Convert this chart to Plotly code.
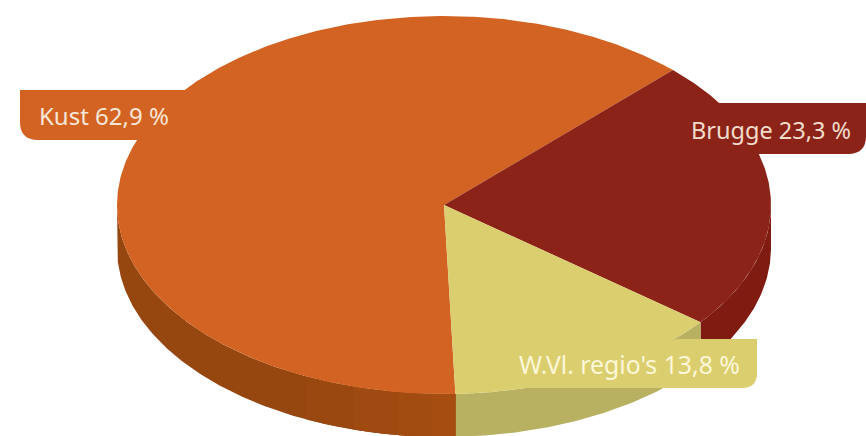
import numpy as np
import plotly.graph_objects as go

categories = ["Kust", "Brugge", "W.Vl. regio's"]
values = [62.9, 23.3, 13.8]
label_texts = ["Kust 62,9 %", "Brugge 23,3 %", "W.Vl. regio's 13,8 %"]

top_colors = {"Kust": "#d36322", "Brugge": "#8b2318", "W.Vl. regio's": "#dbce6e"}
side_colors = {"Kust": "#96460f", "Brugge": "#7f1b11", "W.Vl. regio's": "#b9b162"}
box_text_colors = {"Kust": "#f7e6d8", "Brugge": "#f2dccb", "W.Vl. regio's": "#fbf7d8"}
label_sizes = {"Kust": 24, "Brugge": 23.5, "W.Vl. regio's": 24.8}

# subtle lightening of the Kust wall towards its front end: (end angle, colour)
kust_wall_shades = [(205, "#9a480f"), (196, "#9e4a10"), (188, "#a24c11"), (182, "#a64e12")]

W, H = 866, 436
CX, CY, RX, RY = 444, 205, 327, 189
DEPTH = 43 / RY
ROTATION = 178.0  # clockwise from top: where the Kust slice starts

# slice angles follow the values (clockwise from 12 o'clock), starting at Kust
angles = {}
a = ROTATION
for name, v in zip(categories, values):
    angles[name] = (a, a + v * 3.6)
    a += v * 3.6


def arc(a0, a1):
    t = np.radians(np.linspace(a0, a1, max(int(abs(a1 - a0) * 2), 2)))
    return np.sin(t), np.cos(t)


def add_wall(fig, lo, hi, color):
    x, y = arc(lo, hi)
    fig.add_trace(go.Scatter(
        x=np.r_[x, x[::-1], x[0]], y=np.r_[y, y[::-1] - DEPTH, y[0]],
        fill="toself", fillcolor=color, mode="lines", line_width=0,
        hoverinfo="skip", showlegend=False))


fig = go.Figure()

# side walls (only the front half of the disc shows a wall)
for name in categories:
    a0, a1 = angles[name]
    for shift in (0, -360):
        lo, hi = max(a0 + shift, 90), min(a1 + shift, 270)
        if hi > lo:
            add_wall(fig, lo, hi, side_colors[name])
for end, color in kust_wall_shades:
    add_wall(fig, angles["Kust"][0], end, color)

# top faces
for name in categories:
    a0, a1 = angles[name]
    x, y = arc(a0, a1)
    fig.add_trace(go.Scatter(
        x=np.r_[0, x, 0], y=np.r_[0, y, 0],
        fill="toself", fillcolor=top_colors[name], mode="lines", line_width=0,
        hoverinfo="skip", name=name, showlegend=False))


def px(x):
    return x / W


def py(y):
    return 1 - y / H


def P(x, y):
    return f"{px(x):.5f} {py(y):.5f}"


def left_box(x0, x1, y0, y1, r):
    return (f"M {P(x0, y0)} L {P(x1, y0)} L {P(x1, y1)} L {P(x0 + r, y1)} "
            f"Q {P(x0, y1)} {P(x0, y1 - r)} Z")


def right_box(x0, x1, y0, y1, r, x0b=None):
    x0b = x0 if x0b is None else x0b
    return (f"M {P(x0, y0)} L {P(x1, y0)} L {P(x1, y1 - r)} "
            f"Q {P(x1, y1)} {P(x1 - r, y1)} L {P(x0b, y1)} Z")


shapes = [
    dict(type="path", xref="paper", yref="paper", layer="above", line_width=0,
         fillcolor=top_colors["Kust"], path=left_box(20, 200, 90, 140, 18)),
    dict(type="path", xref="paper", yref="paper", layer="above", line_width=0,
         fillcolor=top_colors["Brugge"], path=right_box(700, 866, 103, 154, 18)),
    dict(type="path", xref="paper", yref="paper", layer="above", line_width=0,
         fillcolor=top_colors["W.Vl. regio's"], path=right_box(677, 757, 339, 388, 15, 517)),
]

positions = {"Kust": (37, 115), "Brugge": (689, 130), "W.Vl. regio's": (517, 364)}
annotations = [
    dict(xref="paper", yref="paper", x=px(positions[n][0]), y=py(positions[n][1]),
         xanchor="left", yanchor="middle", text=t, showarrow=False,
         font=dict(family="Noto Sans", size=label_sizes[n], color=box_text_colors[n]))
    for n, t in zip(categories, label_texts)
]

fig.update_layout(
    width=W, height=H, margin=dict(l=0, r=0, t=0, b=0),
    paper_bgcolor="white", plot_bgcolor="white", showlegend=False,
    shapes=shapes, annotations=annotations,
    xaxis=dict(visible=False, range=[-CX / RX, (W - CX) / RX], fixedrange=True),
    yaxis=dict(visible=False, range=[-(H - CY) / RY, CY / RY], fixedrange=True),
)
fig.write_html("out.html", config={"displayModeBar": False},
               post_script="document.body.style.margin='0';document.body.style.overflow='hidden';")
